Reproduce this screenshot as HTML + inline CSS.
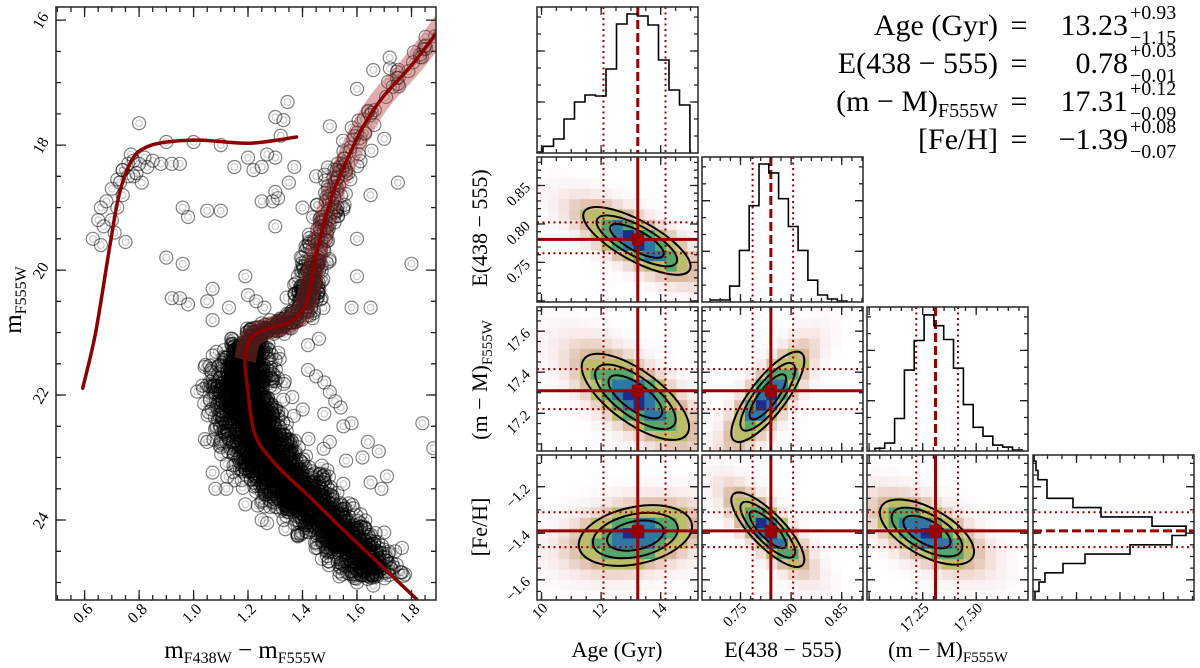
<!DOCTYPE html>
<html><head><meta charset="utf-8">
<style>
body{margin:0;background:#fff}
svg{display:block;font-family:"Liberation Serif",serif}
</style></head>
<body>
<svg id="fig" width="1200" height="668" viewBox="0 0 1200 668">
<defs id="defs"></defs>
<g id="cmd"></g>
<g id="corner"></g>

<text transform="translate(21,300) rotate(-90)" text-anchor="middle" font-size="25">m<tspan font-size="16" dy="5">F555W</tspan></text>
<text x="245" y="658" text-anchor="middle" font-size="25">m<tspan font-size="16" dy="5">F438W</tspan><tspan dy="-5"> − m</tspan><tspan font-size="16" dy="5">F555W</tspan></text>

<text x="617" y="657" text-anchor="middle" font-size="22">Age (Gyr)</text>
<text x="783" y="657" text-anchor="middle" font-size="22">E(438 − 555)</text>
<text x="948" y="657" text-anchor="middle" font-size="22">(m − M)<tspan font-size="15" dy="5">F555W</tspan></text>
<text transform="translate(487,228) rotate(-90)" text-anchor="middle" font-size="22">E(438 − 555)</text>
<text transform="translate(487,380) rotate(-90)" text-anchor="middle" font-size="22">(m − M)<tspan font-size="15" dy="5">F555W</tspan></text>
<text transform="translate(487,527) rotate(-90)" text-anchor="middle" font-size="22">[Fe/H]</text>

<g font-size="30">
  <text x="998" y="35" text-anchor="end">Age (Gyr)</text>
  <text x="1019" y="35" text-anchor="middle">=</text>
  <text x="1128" y="35" text-anchor="end">13.23</text>
  <text x="1130" y="19" font-size="20">+0.93</text>
  <text x="1130" y="44" font-size="20">−1.15</text>

  <text x="998" y="73" text-anchor="end">E(438 − 555)</text>
  <text x="1019" y="73" text-anchor="middle">=</text>
  <text x="1128" y="73" text-anchor="end">0.78</text>
  <text x="1130" y="57" font-size="20">+0.03</text>
  <text x="1130" y="82" font-size="20">−0.01</text>

  <text x="998" y="111" text-anchor="end">(m − M)<tspan font-size="20" dy="6">F555W</tspan></text>
  <text x="1019" y="111" text-anchor="middle">=</text>
  <text x="1128" y="111" text-anchor="end">17.31</text>
  <text x="1130" y="95" font-size="20">+0.12</text>
  <text x="1130" y="120" font-size="20">−0.09</text>

  <text x="998" y="149" text-anchor="end">[Fe/H]</text>
  <text x="1019" y="149" text-anchor="middle">=</text>
  <text x="1128" y="149" text-anchor="end">−1.39</text>
  <text x="1130" y="133" font-size="20">+0.08</text>
  <text x="1130" y="158" font-size="20">−0.07</text>
</g>
</svg>
<script>
// ---------------- DATA ----------------
const isoCol = [1.822,1.679,1.550,1.426,1.297,1.224,1.196,1.189,1.207,1.255,1.343,1.402,1.427,1.446,1.475,1.512,1.563,1.622,1.695,1.795,1.886,1.94];
const isoMag = [25.28,24.69,24.16,23.63,23.09,22.61,21.81,21.44,21.12,20.96,20.85,20.64,20.27,19.84,19.31,18.77,18.24,17.71,17.23,16.75,16.24,15.90];
const hbCol = [0.593,0.640,0.692,0.728,0.776,0.828,0.901,1.022,1.206,1.378];
const hbMag = [21.89,21.01,19.63,18.77,18.22,18.03,17.95,17.92,17.97,17.87];
const cloudMag = [21.2,21.6,22.0,22.5,23.0,23.5,24.0,24.5,24.9];
const cloudCol = [1.20,1.18,1.18,1.21,1.27,1.36,1.48,1.60,1.66];
const cloudSpread = [0.05,0.055,0.06,0.065,0.07,0.07,0.07,0.065,0.055];
const cloudCount = [170,270,320,370,370,350,310,190];
const starCol = [0.72,0.74,0.76,0.78,0.80,0.82,0.85,0.83,0.79,0.76,0.73,0.70,0.68,0.66,0.65,0.67,0.70,0.72,0.74,0.63,0.66,0.75,0.71,0.77,0.88,0.92,0.95,0.80,0.90,1.00,1.10,1.15,1.20,1.22,1.25,1.30,1.32,1.30,1.345,1.33,1.27,1.37,1.35,1.30,1.29,1.31,1.25,1.30,0.96,0.98,1.05,1.10,0.90,0.96,0.92,0.95,0.98,1.05,1.07,1.07,1.13,1.20,1.23,1.26,1.19,1.40,1.45,1.47,1.55,1.60,1.65,1.70,1.75,1.80,1.58,1.65,1.60,1.42,1.46,1.42,1.45,1.48,1.50,1.52,1.54,1.48,1.55,1.58,1.50,1.56,1.62,1.64,1.68,1.71,1.69,1.65,1.70,1.74,1.63,1.60,1.66,1.84,1.88,1.05,1.08,1.12,1.25,1.27,1.33,1.60,1.66,1.72,1.50,1.55,0.74,0.78,0.81];
const starMag = [18.55,18.40,18.30,18.25,18.30,18.20,18.25,18.35,18.45,18.50,18.60,18.70,18.90,19.00,19.20,19.30,19.20,19.00,18.80,19.50,19.60,19.55,19.40,18.15,18.30,18.30,18.30,17.65,17.95,17.95,18.00,18.35,18.20,18.40,18.35,18.20,17.85,17.55,17.31,17.60,18.15,18.35,18.60,18.75,18.90,18.85,18.90,19.30,19.00,19.15,19.05,19.05,19.80,19.90,20.45,20.45,20.55,20.50,20.30,20.80,20.60,20.40,20.50,20.60,20.10,19.00,18.50,19.20,19.00,19.50,18.80,17.90,18.60,19.90,20.60,20.60,20.10,21.20,21.10,21.60,21.70,21.80,21.95,22.10,22.20,22.30,22.50,22.45,22.75,23.05,23.00,22.75,22.90,23.30,23.50,23.40,24.20,24.50,24.70,25.00,25.05,22.45,22.85,22.75,23.50,23.50,24.00,24.05,24.00,17.10,16.80,16.60,17.70,18.10,18.40,18.50,18.60];

const paramNames = ['age','reddening','distance','metallicity'];
const paramMedian = [13.23, 0.78, 17.31, -1.39];
const paramLow = [12.08, 0.762, 17.22, -1.46];
const paramHigh = [14.16, 0.802, 17.415, -1.31];
const ageBinStart = 9.70, ageBinWidth = 0.352;
const ageCounts = [1,6.7,14,34,51,58,57,84,129,139,137,128,93,63,48];
const redBinStart = 0.720, redBinWidth = 0.00966;
const redCounts = [2,2,16,52,97,139,130,104,76,52,22,7,3,1];
const dmBinStart = 17.027, dmBinWidth = 0.0459;
const dmCounts = [2.7,8,33,82,112,138,127,113,84,47,24,15,6,4,1];
const fehBinStart = -1.69, fehBinWidth = 0.04;
const fehCounts = [2,6,12,30,52,97,139,153,119,68,40,14,14,5,3,1];
const pairXParam = [0,0,1,0,1,2];
const pairYParam = [1,2,2,3,3,3];
const pairCenterX = [13.2,13.15,0.777,13.15,0.777,17.27];
const pairCenterY = [0.778,17.28,17.28,-1.41,-1.385,-1.395];
const pairSigX = [0.9,0.9,0.018,0.95,0.018,0.11];
const pairSigY = [0.022,0.105,0.11,0.065,0.08,0.07];
const pairRho = [-0.75,-0.7,0.8,0.3,-0.8,-0.6];
const cmdXTicks = [0.6,0.8,1.0,1.2,1.4,1.6,1.8];
const cmdYTicks = [16,18,20,22,24];
const ageTickLabels = [10,12,14];
const redTickLabels = [0.75,0.80,0.85];
const dmXTickLabels = [17.25,17.50];
const dmYTickLabels = [17.2,17.4,17.6];
const fehTickLabels = [-1.2,-1.4,-1.6];

// ---------------- HELPERS ----------------
const NS='http://www.w3.org/2000/svg';
function mk(tag, attrs, parent){const e=document.createElementNS(NS,tag);for(const k in attrs)e.setAttribute(k,attrs[k]);parent.appendChild(e);return e;}
function scale(d0,d1,r0,r1){return v=>r0+(v-d0)/(d1-d0)*(r1-r0);}
function minus(s){return String(s).replace('-','−');}
const RED='#990000';

function tickPath(g,name,sx,sy,x0,y0,w,h,xlo,xhi,xstep,xlen,ylo,yhi,ystep,ylen){
  let d='';
  if(xstep){for(let k=Math.ceil(xlo/xstep-1e-6);k*xstep<=xhi+1e-9;k++){const X=sx(k*xstep);if(X<x0+1||X>x0+w-1)continue;d+=`M${X.toFixed(1)} ${y0}v${xlen}M${X.toFixed(1)} ${y0+h}v${-xlen}`;}}
  if(ystep){for(let k=Math.ceil(ylo/ystep-1e-6);k*ystep<=yhi+1e-9;k++){const Y=sy(k*ystep);if(Y<y0+1||Y>y0+h-1)continue;d+=`M${x0} ${Y.toFixed(1)}h${ylen}M${x0+w} ${Y.toFixed(1)}h${-ylen}`;}}
  const p=mk('path',{d:d,stroke:'#222','stroke-width':1.3,fill:'none'},g);
  
  
}
function frame(g,x0,y0,w,h,name){
  const r=mk('rect',{x:x0,y:y0,width:w,height:h,fill:'none',stroke:'#333','stroke-width':1.6},g);
  
  
}
let seed=1;
function rnd(){const s=Math.sin(seed++*12.9898)*43758.5453;return s-Math.floor(s);}
function gauss(){const u=Math.max(rnd(),1e-6),v=rnd();return Math.sqrt(-2*Math.log(u))*Math.cos(2*Math.PI*v);}

// ---------------- CMD ----------------
const cmd=document.getElementById('cmd');
const C={x0:56,y0:7,w:380,h:593};
const cx=scale(0.495,1.89,C.x0,C.x0+C.w);
const cy=scale(15.79,25.28,C.y0,C.y0+C.h);
const defs=document.getElementById('defs');
const cp=mk('clipPath',{id:'cmdclip'},defs);
mk('rect',{x:C.x0,y:C.y0,width:C.w,height:C.h},cp);
const starsG=mk('g',{'clip-path':'url(#cmdclip)'},cmd);


function star(c,m){
  const X=cx(c),Y=cy(m);
  const o=mk('circle',{cx:X.toFixed(1),cy:Y.toFixed(1),r:6.5,fill:'none',stroke:'rgba(0,0,0,0.5)','stroke-width':1.2},starsG);
  
  
  const i=mk('circle',{cx:X.toFixed(1),cy:Y.toFixed(1),r:3.3,fill:'none',stroke:'rgba(0,0,0,0.22)','stroke-width':1.1},starsG);
  
  
}
for(let i=0;i<cloudCount.length;i++){
  for(let j=0;j<cloudCount[i];j++){
    const u=rnd();
    const m=cloudMag[i]+u*(cloudMag[i+1]-cloudMag[i]);
    const col=cloudCol[i]+u*(cloudCol[i+1]-cloudCol[i]);
    const sd=cloudSpread[i]+u*(cloudSpread[i+1]-cloudSpread[i]);
    star(col+sd*gauss(),m+0.03*gauss());
  }
}
function along(i0,i1,n,spread){
  for(let j=0;j<n;j++){
    const t=rnd()*(i1-i0)+i0;const k=Math.min(Math.floor(t),isoCol.length-2);const f=t-k;
    const c=isoCol[k]+f*(isoCol[k+1]-isoCol[k]);const m=isoMag[k]+f*(isoMag[k+1]-isoMag[k]);
    star(c+spread*gauss(),m+0.04*gauss());
  }
}
along(6,11,280,0.03);
along(11,13,170,0.025);
along(13,16,110,0.025);
along(16,20,45,0.025);
for(let i=0;i<starCol.length;i++) star(starCol[i],starMag[i]);

function smoothPath(cols,mags,i0,i1){
  const P=[];for(let i=i0;i<=i1;i++)P.push([cx(cols[i]),cy(mags[i])]);
  let d=`M${P[0][0].toFixed(1)} ${P[0][1].toFixed(1)}`;
  for(let i=0;i<P.length-1;i++){
    const p0=P[Math.max(i-1,0)],p1=P[i],p2=P[i+1],p3=P[Math.min(i+2,P.length-1)];
    const c1=[p1[0]+(p2[0]-p0[0])/6,p1[1]+(p2[1]-p0[1])/6];
    const c2=[p2[0]-(p3[0]-p1[0])/6,p2[1]-(p3[1]-p1[1])/6];
    d+=`C${c1[0].toFixed(1)} ${c1[1].toFixed(1)} ${c2[0].toFixed(1)} ${c2[1].toFixed(1)} ${p2[0].toFixed(1)} ${p2[1].toFixed(1)}`;
  }
  return d;
}
const lineG=mk('g',{'clip-path':'url(#cmdclip)'},cmd);
const band=mk('path',{d:smoothPath(isoCol,isoMag,7,isoCol.length-1),fill:'none',stroke:'rgba(175,60,60,0.42)','stroke-width':22,'stroke-linejoin':'round','stroke-linecap':'butt'},lineG);


const iso=mk('path',{d:smoothPath(isoCol,isoMag,0,isoCol.length-1),fill:'none',stroke:'#8b0000','stroke-width':3.5,'stroke-linejoin':'round'},lineG);


const hb=mk('path',{d:smoothPath(hbCol,hbMag,0,hbCol.length-1),fill:'none',stroke:'#8b0000','stroke-width':3.5,'stroke-linejoin':'round','stroke-linecap':'round'},lineG);



frame(cmd,C.x0,C.y0,C.w,C.h,'cmd-frame');
tickPath(cmd,'cmd-minor-ticks',cx,cy,C.x0,C.y0,C.w,C.h,0.495,1.89,0.05,5,15.79,25.28,0.5,5);
tickPath(cmd,'cmd-major-ticks',cx,cy,C.x0,C.y0,C.w,C.h,0.495,1.89,0.2,10,15.79,25.28,2,10);
cmdXTicks.forEach(v=>{
  const X=cx(v);
  const t=mk('text',{x:X+9,y:610,'text-anchor':'end','font-size':16,transform:`rotate(-45 ${X+9} 610)`},cmd);
  t.textContent=v.toFixed(1);
  
  
});
cmdYTicks.forEach(v=>{
  const Y=cy(v);
  const t=mk('text',{x:40,y:Y+6,'text-anchor':'middle','font-size':16,transform:`rotate(-60 40 ${Y})`},cmd);
  t.textContent=String(v);
  
  
});

// ---------------- CORNER ----------------
const corner=document.getElementById('corner');
const colX=[537,702,867,1033], colW=161;
const rowY=[7,157,307,455], rowH=[146,145,144,145];
const xRange=[[9.85,15.25],[0.712,0.871],[16.99,17.742]];
const yRange=[null,[0.6986,0.887],[17.016,17.718],[-1.687,-1.064]];
const majorStep=[2,0.05,0.25,0.2], minorStep=[0.5,0.01,0.05,0.05];
const yMajorStep=[null,0.05,0.2,0.2];

function cmap(d){
  if(d>=0.88)return '#1c2d8c';
  if(d>=0.607)return '#2f76a2';
  if(d>=0.325)return '#55a66c';
  if(d>=0.135)return '#bcbd6b';
  const t=Math.sqrt(d/0.135);
  let r,g,b;
  if(t<0.35){const f=t/0.35;r=255-8*f;g=255-23*f;b=255-25*f;}
  else{const f=(t-0.35)/0.65;r=247-33*f;g=232-54*f;b=230-80*f;}
  return `rgb(${r|0},${g|0},${b|0})`;
}
function vline(g,X,y0,h,dash,w,name){const l=mk('line',{x1:X,y1:y0,x2:X,y2:y0+h,stroke:RED,'stroke-width':w,'stroke-dasharray':dash},g);}
function hline(g,Y,x0,w0,dash,w,name){const l=mk('line',{x1:x0,y1:Y,x2:x0+w0,y2:Y,stroke:RED,'stroke-width':w,'stroke-dasharray':dash},g);}

for(let p=0;p<pairXParam.length;p++){
  const ci=pairXParam[p], ri=pairYParam[p];
  const x0=colX[ci], y0=rowY[ri], w=colW, h=rowH[ri];
  const xr=xRange[ci], yr=yRange[ri];
  const sx=scale(xr[0],xr[1],x0,x0+w), sy=scale(yr[0],yr[1],y0+h,y0);
  const g=mk('g',{},corner);
  
  
  const clip=mk('clipPath',{id:'pc'+p},defs);
  mk('rect',{x:x0,y:y0,width:w,height:h},clip);
  const inner=mk('g',{'clip-path':`url(#pc${p})`},g);
  const mx=pairCenterX[p],my=pairCenterY[p],sgx=pairSigX[p],sgy=pairSigY[p],rho=pairRho[p];
  const nx=15,ny=14, dx=(xr[1]-xr[0])/nx, dy=(yr[1]-yr[0])/ny;
  for(let i=0;i<nx;i++)for(let j=0;j<ny;j++){
    const vx=xr[0]+(i+0.5)*dx, vy=yr[0]+(j+0.5)*dy;
    const zx=(vx-mx)/sgx, zy=(vy-my)/sgy;
    const q=(zx*zx-2*rho*zx*zy+zy*zy)/(1-rho*rho);
    const d=Math.exp(-0.5*q);
    const X1=sx(xr[0]+i*dx), X2=sx(xr[0]+(i+1)*dx), Y1=sy(yr[0]+(j+1)*dy), Y2=sy(yr[0]+j*dy);
    const r=mk('rect',{x:X1.toFixed(1),y:Y1.toFixed(1),width:(X2-X1+0.6).toFixed(1),height:(Y2-Y1+0.6).toFixed(1),fill:cmap(d)},inner);
    
    
  }
  const kx=w/(xr[1]-xr[0]), ky=h/(yr[1]-yr[0]);
  const a=(sgx*kx)**2, c=(sgy*ky)**2, b=-rho*sgx*kx*sgy*ky;
  const tr=Math.sqrt(((a-c)/2)**2+b*b);
  const l1=(a+c)/2+tr, l2=(a+c)/2-tr;
  const th=0.5*Math.atan2(2*b,a-c)*180/Math.PI;
  const ecx=sx(mx), ecy=sy(my);
  [2,1.5,1].forEach(rr=>{
    const e=mk('ellipse',{cx:ecx,cy:ecy,rx:rr*Math.sqrt(l1),ry:rr*Math.sqrt(l2),fill:'none',stroke:'#000','stroke-width':2,transform:`rotate(${th} ${ecx} ${ecy})`},inner);
    
    
  });
  vline(inner,sx(paramLow[ci]),y0,h,'2 3.5',2,'lower-quantile-line');
  vline(inner,sx(paramHigh[ci]),y0,h,'2 3.5',2,'upper-quantile-line');
  hline(inner,sy(paramLow[ri]),x0,w,'2 3.5',2,'lower-quantile-line');
  hline(inner,sy(paramHigh[ri]),x0,w,'2 3.5',2,'upper-quantile-line');
  vline(inner,sx(paramMedian[ci]),y0,h,'none',3,'median-line');
  hline(inner,sy(paramMedian[ri]),x0,w,'none',3,'median-line');
  const sq=mk('rect',{x:sx(paramMedian[ci])-6,y:sy(paramMedian[ri])-6,width:12,height:12,fill:RED},inner);
  
  
  frame(g,x0,y0,w,h,'panel-frame');
  tickPath(g,'minor-ticks',sx,sy,x0,y0,w,h,xr[0],xr[1],minorStep[ci],4,yr[0],yr[1],minorStep[ri],4);
  tickPath(g,'major-ticks',sx,sy,x0,y0,w,h,xr[0],xr[1],majorStep[ci],8,yr[0],yr[1],yMajorStep[ri],8);
  if(ri===3){
    const labs=[ageTickLabels,redTickLabels,dmXTickLabels][ci];
    labs.forEach(v=>{
      const X=sx(v);
      const t=mk('text',{x:X+7,y:609,'text-anchor':'end','font-size':15,transform:`rotate(-45 ${X+7} 609)`},g);
      t.textContent=ci===0?String(v):v.toFixed(2);
      
      
    });
  }
  if(ci===0){
    const labs=[null,redTickLabels,dmYTickLabels,fehTickLabels][ri];
    labs.forEach(v=>{
      const Y=sy(v);
      const t=mk('text',{x:531,y:Y+3,'text-anchor':'end','font-size':15,transform:`rotate(-45 531 ${Y+3})`},g);
      t.textContent=minus(ri===1?v.toFixed(2):v.toFixed(1));
      
      
    });
  }
}

const histCounts=[ageCounts,redCounts,dmCounts];
const histStart=[ageBinStart,redBinStart,dmBinStart];
const histWidth=[ageBinWidth,redBinWidth,dmBinWidth];
for(let k=0;k<3;k++){
  const x0=colX[k], y0=rowY[k], w=colW, h=rowH[k], xr=xRange[k];
  const sx=scale(xr[0],xr[1],x0,x0+w), sy=scale(0,146,y0+h,y0);
  const g=mk('g',{},corner);
  
  
  const clip=mk('clipPath',{id:'hc'+k},defs);
  mk('rect',{x:x0,y:y0,width:w,height:h},clip);
  const inner=mk('g',{'clip-path':`url(#hc${k})`},g);
  const cts=histCounts[k];
  let d=`M${sx(histStart[k]).toFixed(1)} ${sy(0)}`;
  cts.forEach((c,i)=>{const a=sx(histStart[k]+i*histWidth[k]),b=sx(histStart[k]+(i+1)*histWidth[k]);d+=`L${a.toFixed(1)} ${sy(c).toFixed(1)}L${b.toFixed(1)} ${sy(c).toFixed(1)}`;});
  d+=`L${sx(histStart[k]+cts.length*histWidth[k]).toFixed(1)} ${sy(0)}`;
  vline(inner,sx(paramLow[k]),y0,h,'2 3.5',2,'lower-quantile-line');
  vline(inner,sx(paramHigh[k]),y0,h,'2 3.5',2,'upper-quantile-line');
  vline(inner,sx(paramMedian[k]),y0,h,'9 4',3,'median-dashed-line');
  const hp=mk('path',{d:d,fill:'none',stroke:'#000','stroke-width':1.6},inner);
  
  
  frame(g,x0,y0,w,h,'panel-frame');
  tickPath(g,'minor-ticks',sx,sy,x0,y0,w,h,xr[0],xr[1],minorStep[k],4,0,146,17,4);
  tickPath(g,'major-ticks',sx,sy,x0,y0,w,h,xr[0],xr[1],majorStep[k],8,0,146,51,8);
}
{
  const x0=colX[3], y0=rowY[3], w=colW, h=rowH[3], yr=yRange[3];
  const sx=scale(0,161,x0,x0+w), sy=scale(yr[0],yr[1],y0+h,y0);
  const g=mk('g',{},corner);
  
  
  const clip=mk('clipPath',{id:'hc3'},defs);
  mk('rect',{x:x0,y:y0,width:w,height:h},clip);
  const inner=mk('g',{'clip-path':'url(#hc3)'},g);
  let d=`M${sx(0)} ${sy(fehBinStart).toFixed(1)}`;
  fehCounts.forEach((c,i)=>{const a=sy(fehBinStart+i*fehBinWidth),b=sy(fehBinStart+(i+1)*fehBinWidth);d+=`L${sx(c).toFixed(1)} ${a.toFixed(1)}L${sx(c).toFixed(1)} ${b.toFixed(1)}`;});
  d+=`L${sx(0)} ${sy(fehBinStart+fehCounts.length*fehBinWidth).toFixed(1)}`;
  hline(inner,sy(paramLow[3]),x0,w,'2 3.5',2,'lower-quantile-line');
  hline(inner,sy(paramHigh[3]),x0,w,'2 3.5',2,'upper-quantile-line');
  hline(inner,sy(paramMedian[3]),x0,w,'9 4',3,'median-dashed-line');
  const hp=mk('path',{d:d,fill:'none',stroke:'#000','stroke-width':1.6},inner);
  
  
  frame(g,x0,y0,w,h,'panel-frame');
  tickPath(g,'minor-ticks',sx,sy,x0,y0,w,h,0,161,14.5,4,yr[0],yr[1],0.05,4);
  tickPath(g,'major-ticks',sx,sy,x0,y0,w,h,0,161,43.5,8,yr[0],yr[1],0.2,8);
}
</script>
</body></html>
